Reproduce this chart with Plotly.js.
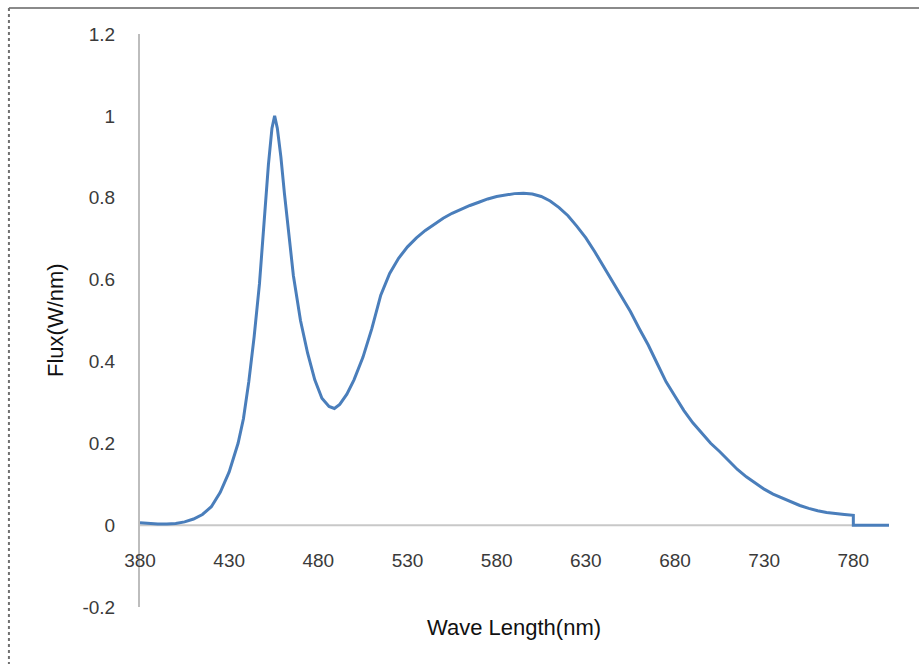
<!DOCTYPE html>
<html>
<head>
<meta charset="utf-8">
<script src="https://cdn.plot.ly/plotly-3.0.1.min.js"></script>
<style>
html,body{margin:0;padding:0;background:#fff;}
#chart{width:919px;height:664px;}
</style>
</head>
<body>
<div id="chart"></div>
<script>
// Wavelength (nm)
const wavelength = [
  380,385,390,395,400,405,410,415,420,425,430,435,438,441,444,447,450,452,454,455.5,
  457,459,461,463,466,470,474,478,482,486,489,492,496,500,505,510,515,520,525,530,
  535,540,545,550,555,560,565,570,575,580,585,590,595,600,605,610,615,620,625,630,
  635,640,645,650,655,660,665,670,675,680,685,690,695,700,705,710,715,720,725,730,
  735,740,745,750,755,760,765,770,775,780,780,785,790,795,800
];
// Flux (W/nm)
const flux = [
  0.006,0.004,0.003,0.003,0.004,0.008,0.015,0.026,0.045,0.08,0.13,0.2,0.26,0.35,0.46,0.59,0.77,0.88,0.97,1.0,
  0.97,0.9,0.81,0.73,0.61,0.5,0.42,0.355,0.31,0.29,0.285,0.295,0.32,0.355,0.41,0.48,0.562,0.615,0.652,0.68,
  0.702,0.72,0.736,0.75,0.762,0.772,0.781,0.789,0.797,0.803,0.807,0.81,0.811,0.809,0.803,0.792,0.776,0.756,0.73,0.702,
  0.668,0.632,0.596,0.56,0.522,0.48,0.44,0.395,0.35,0.315,0.28,0.25,0.225,0.2,0.18,0.158,0.136,0.118,0.102,0.088,
  0.076,0.066,0.056,0.048,0.041,0.035,0.031,0.028,0.026,0.024,0,0,0,0,0
];
const xTicks = [380,430,480,530,580,630,680,730,780];
const xTickText = ["380","430","480","530","580","630","680","730","780"];
const yTicks = [-0.2,0,0.2,0.4,0.6,0.8,1,1.2];
const yTickText = ["-0.2","0","0.2","0.4","0.6","0.8","1","1.2"];
const xRange = [380,800];
const yRange = [-0.2,1.2];

const tickFont = {family:"Liberation Sans, Arial, sans-serif", size:19, color:"#3a3a3a"};
const titleFont = {family:"Liberation Sans, Arial, sans-serif", size:22, color:"#111"};

const trace = {
  x: wavelength, y: flux, type:"scatter", mode:"lines",
  line:{color:"#4A7EBB", width:3}, hoverinfo:"x+y"
};

const layout = {
  width:919, height:664,
  margin:{l:140, r:30, t:34, b:57},
  paper_bgcolor:"#fff", plot_bgcolor:"#fff",
  showlegend:false,
  xaxis:{
    range:xRange, tickvals:xTicks, ticktext:xTickText,
    anchor:"free", position:1/7,
    showgrid:false, zeroline:false, showline:false,
    ticks:"outside", ticklen:18, tickcolor:"rgba(0,0,0,0)",
    tickfont:tickFont
  },
  yaxis:{
    range:yRange, tickvals:yTicks, ticktext:yTickText,
    showgrid:false, zeroline:false,
    showline:true, linecolor:"#bdbdbd", linewidth:2,
    ticks:"outside", ticklen:19, tickcolor:"rgba(0,0,0,0)",
    tickfont:tickFont
  },
  shapes:[
    {type:"line", xref:"x", yref:"y", x0:380, x1:782, y0:0, y1:0,
     line:{color:"#c8c8c8", width:2}, layer:"below"},
    {type:"line", xref:"paper", yref:"paper", x0:-0.175, x1:1.045, y0:1.0454, y1:1.0454,
     line:{color:"#8a8a8a", width:2}},
    {type:"line", xref:"paper", yref:"paper", x0:-0.175, x1:-0.175, y0:1.0454, y1:-0.11,
     line:{color:"#707070", width:2, dash:"dot"}}
  ],
  annotations:[
    {text:"Wave Length(nm)", xref:"paper", yref:"paper",
     x:(514-140)/748.7, y:(607-627)/573, xanchor:"center", yanchor:"middle",
     showarrow:false, font:titleFont},
    {text:"Flux(W/nm)", xref:"paper", yref:"paper",
     x:(55-140)/748.7, y:(607-320)/573, xanchor:"center", yanchor:"middle",
     textangle:-90, showarrow:false, font:titleFont}
  ]
};

Plotly.newPlot("chart", [trace], layout, {displayModeBar:false, staticPlot:true});
</script>
</body>
</html>
